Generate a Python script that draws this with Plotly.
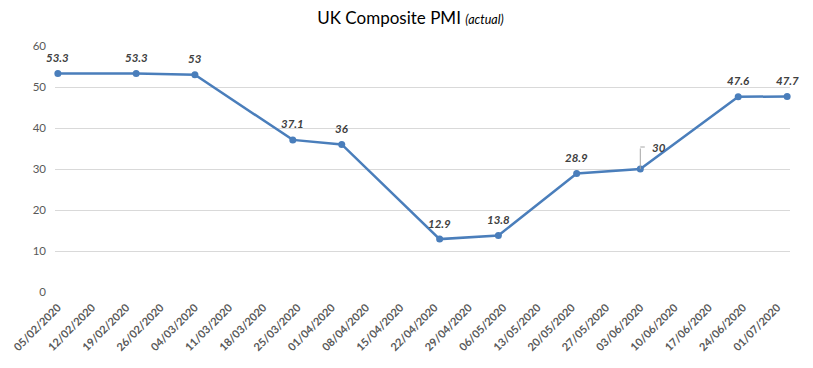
import plotly.graph_objects as go
import pandas as pd

dates = ["2020-02-05", "2020-02-21", "2020-03-04", "2020-03-24", "2020-04-03",
         "2020-04-23", "2020-05-05", "2020-05-21", "2020-06-03", "2020-06-23", "2020-07-03"]
pmi = [53.3, 53.3, 53.0, 37.1, 36.0, 12.9, 13.8, 28.9, 30.0, 47.6, 47.7]
labels = ["53.3", "53.3", "53", "37.1", "36", "12.9", "13.8", "28.9", "30", "47.6", "47.7"]
tick_dates = pd.date_range("2020-02-05", "2020-07-01", freq="7D")
y_ticks = [0, 10, 20, 30, 40, 50, 60]

FONT = "Lato, 'Liberation Sans', sans-serif"
LINE = "#4a7ebb"
LBL = dict(family=FONT, size=11.5, color="#404040")

fig = go.Figure()
fig.add_trace(go.Scatter(
    x=dates, y=pmi, mode="lines+markers",
    line=dict(color=LINE, width=2.5),
    marker=dict(color=LINE, size=7),
    cliponaxis=False, hoverinfo="x+y", showlegend=False,
))

for d, v, t in zip(dates, pmi, labels):
    if t == "30":
        fig.add_annotation(x=d, y=v, text="", showarrow=True, ax=0, ay=-22,
                           arrowhead=0, arrowwidth=1, arrowcolor="#a6a6a6", standoff=0)
        fig.add_annotation(x=d, y=v, text="", showarrow=True, ax=6, ay=0,
                           arrowhead=0, arrowwidth=1, arrowcolor="#a6a6a6", standoff=0,
                           yshift=22)
        fig.add_annotation(x=d, y=v, text="<b><i>%s</i></b>" % t, showarrow=False,
                           xanchor="left", yanchor="middle", xshift=10, yshift=22, font=LBL)
    else:
        fig.add_annotation(x=d, y=v, text="<b><i>%s</i></b>" % t, showarrow=False,
                           xanchor="center", yanchor="middle", yshift=16, font=LBL)

# page body has an 8px default margin, so the figure is sized to fit the window
fig.update_layout(
    width=805, height=360,
    paper_bgcolor="white", plot_bgcolor="white",
    margin=dict(l=47, r=23, t=38, b=76),
    title=dict(text="UK Composite PMI <span style='font-size:12.5px'><i>(actual)</i></span>",
               x=0.5, xanchor="center", y=0.972, yanchor="middle",
               font=dict(family=FONT, size=17, color="#000000")),
    xaxis=dict(
        type="date", automargin=False,
        range=["2020-02-04 10:00", "2020-07-03 14:00"],
        tickvals=list(tick_dates),
        ticktext=[d.strftime("<b>%d/%m/%Y</b>") for d in tick_dates],
        tickangle=-45, ticklabelstandoff=6,
        tickfont=dict(family=FONT, size=11, color="#595959"),
        showgrid=False, showline=False, ticks="", zeroline=False,
    ),
    yaxis=dict(
        range=[0, 60], tickvals=y_ticks, automargin=False,
        tickfont=dict(family=FONT, size=11.5, color="#595959"),
        showgrid=True, gridcolor="#d9d9d9", gridwidth=1,
        zeroline=False, showline=False, ticks="", ticklabelstandoff=8,
    ),
)

fig.write_html("out.html")
